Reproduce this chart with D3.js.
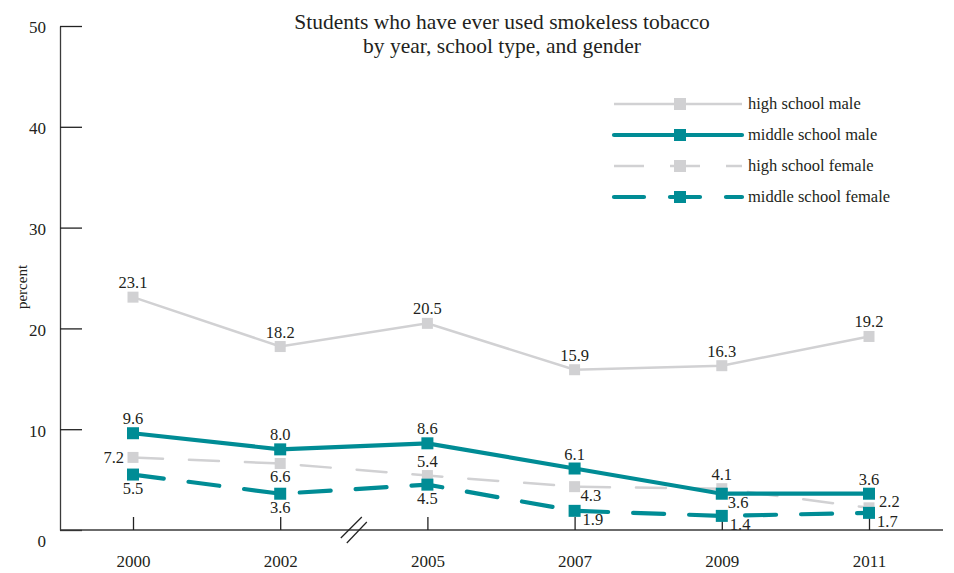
<!DOCTYPE html>
<html><head><meta charset="utf-8">
<script src="https://cdn.jsdelivr.net/npm/d3@7"></script>
<style>body{margin:0;background:#fff}svg{display:block}text{font-family:"Liberation Serif",serif;fill:#231f20}</style>
</head><body><svg id="c" width="954" height="573"></svg>
<script>
const years = ["2000","2002","2005","2007","2009","2011"];
const seriesNames = ["high school male","middle school male","high school female","middle school female"];
const hsMale = [23.1,18.2,20.5,15.9,16.3,19.2];
const msMale = [9.6,8.0,8.6,6.1,3.6,3.6];
const hsFemale = [7.2,6.6,5.4,4.3,4.1,2.2];
const msFemale = [5.5,3.6,4.5,1.9,1.4,1.7];
const yTicks = [0,10,20,30,40,50];
// label placement keywords per series point
const hsMalePos = ["above","above","above","above","above","above"];
const msMalePos = ["above","above","above","above","belowright","above"];
const hsFemalePos = ["left","below","above","belowright","above","right"];
const msFemalePos = ["below","below","below","lowright","lowright","lowright"];

const TEAL="#008c95", GRAY="#d1d1d3", AXIS="#3a3a3a";
const svg=d3.select("#c");
const x=d3.scalePoint().domain(years).range([133,869]);
const y=d3.scaleLinear().domain([0,50]).range([530,26]);

// title
svg.append("text").attr("x",502).attr("y",29).attr("text-anchor","middle").style("font-size","21.5px").text("Students who have ever used smokeless tobacco");
svg.append("text").attr("x",502).attr("y",53).attr("text-anchor","middle").style("font-size","21.5px").text("by year, school type, and gender");

// y axis
const ya=svg.append("g").attr("transform","translate(60,0)")
  .call(d3.axisLeft(y).tickValues(yTicks).tickSizeInner(-22).tickSizeOuter(0).tickPadding(14).tickFormat(d3.format("d")));
ya.select(".domain").attr("stroke",AXIS).attr("stroke-width",1.3);
ya.selectAll(".tick line").attr("stroke","#222").attr("stroke-width",1.3);
ya.selectAll(".tick text").style("font-size","17px").style("font-family","Liberation Serif").attr("fill","#231f20")
  .attr("dy",d=>d===0?"0.95em":"0.4em");
svg.append("text").attr("transform","translate(27,287) rotate(-90)").attr("text-anchor","middle").style("font-size","15px").text("percent");

// x axis
svg.append("line").attr("x1",60).attr("x2",943).attr("y1",530).attr("y2",530).attr("stroke",AXIS).attr("stroke-width",1.3);
const xa=svg.append("g").attr("transform","translate(0,530)")
  .call(d3.axisBottom(x).tickSizeInner(-13).tickSizeOuter(0).tickPadding(25));
xa.select(".domain").remove();
xa.selectAll(".tick line").attr("stroke","#222").attr("stroke-width",1.3);
xa.selectAll(".tick text").style("font-size","17px").style("font-family","Liberation Serif").attr("fill","#231f20");

// axis break
const bx=(x("2002")+x("2005"))/2;
[[-13,8,8,-13],[-7,13,13,-8]].forEach(o=>{
  svg.append("line").attr("x1",bx+o[0]).attr("y1",530+o[1]).attr("x2",bx+o[2]).attr("y2",530+o[3]).attr("stroke","#222").attr("stroke-width",1.2);
});

const series=[
  {name:seriesNames[0],vals:hsMale,pos:hsMalePos,color:GRAY,w:2.5,dash:null},
  {name:seriesNames[1],vals:msMale,pos:msMalePos,color:TEAL,w:4.2,dash:null},
  {name:seriesNames[2],vals:hsFemale,pos:hsFemalePos,color:GRAY,w:2.5,dash:"30,26"},
  {name:seriesNames[3],vals:msFemale,pos:msFemalePos,color:TEAL,w:4.2,dash:"31,25"}
];
const line=d3.line().x((d,i)=>x(years[i])).y(d=>y(d));
const order=[2,3,0,1];
order.forEach(k=>{
  const s=series[k];
  svg.append("path").datum(s.vals).attr("d",line).attr("fill","none").attr("stroke",s.color)
    .attr("stroke-width",s.w).attr("stroke-dasharray",s.dash).attr("stroke-linecap",s.dash?"round":"butt");
});
order.forEach(k=>{
  const s=series[k];
  const sz=s.color===TEAL?12:11;
  svg.selectAll(null).data(s.vals).enter().append("rect")
    .attr("x",(d,i)=>x(years[i])-sz/2).attr("y",d=>y(d)-sz/2).attr("width",sz).attr("height",sz).attr("fill",s.color);
});
// labels
const off={above:[0,-9,"middle"],below:[0,19,"middle"],left:[-9,5.5,"end"],right:[10,-1,"start"],
  belowright:[6,14,"start"],lowright:[8,14,"start"]};
series.forEach(s=>{
  s.vals.forEach((v,i)=>{
    const o=off[s.pos[i]];
    svg.append("text").attr("x",x(years[i])+o[0]).attr("y",y(v)+o[1]).attr("text-anchor",o[2])
      .style("font-size","16.5px").text(d3.format(".1f")(v));
  });
});

// legend
series.forEach((s,k)=>{
  const ly=104+k*31;
  svg.append("line").attr("x1",614).attr("x2",742).attr("y1",ly).attr("y2",ly).attr("stroke",s.color)
    .attr("stroke-width",s.w).attr("stroke-dasharray",s.dash?"30,26":null).attr("stroke-linecap",s.color===TEAL?"round":"butt");
  svg.append("rect").attr("x",680-6).attr("y",ly-6).attr("width",12).attr("height",12).attr("fill",s.color);
  svg.append("text").attr("x",748).attr("y",ly+5).style("font-size","16.5px").text(s.name);
});
</script></body></html>
